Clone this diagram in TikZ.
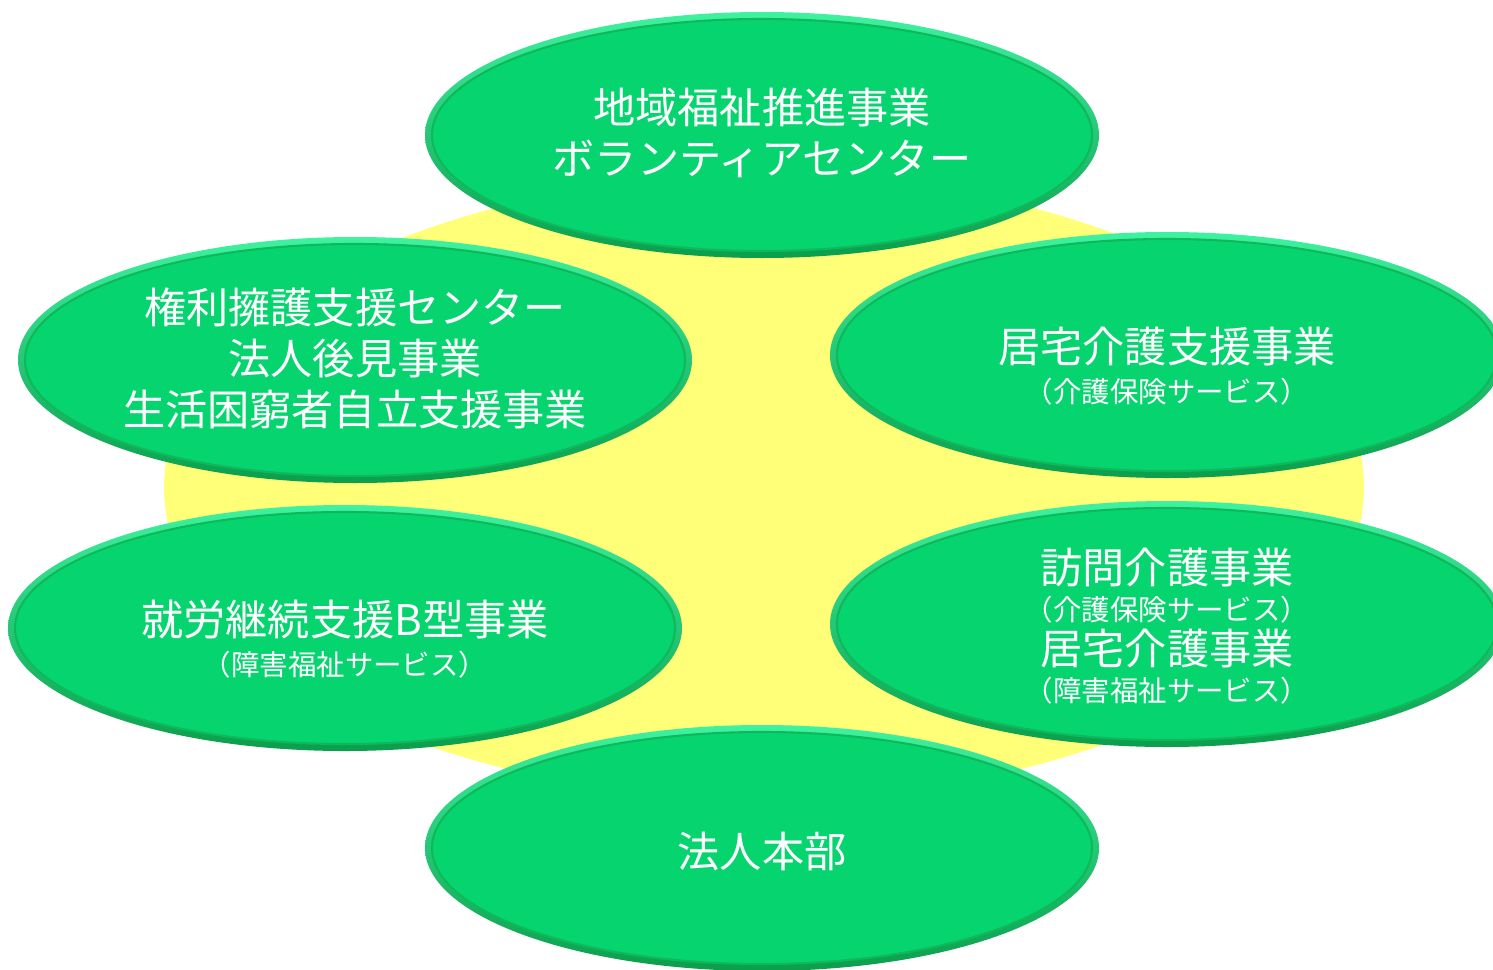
\documentclass[tikz,border=0pt]{standalone}
\usepackage{fontspec}
\setmainfont{Noto Sans CJK JP}
\definecolor{facegreen}{HTML}{06D56F}
\definecolor{rimlight}{HTML}{3DF2A0}
\definecolor{rimdark}{HTML}{0B9E4C}
\definecolor{edgegreen}{HTML}{0FB85A}
\definecolor{backyellow}{HTML}{FFFF78}
\newcommand{\subtxt}[1]{{\fontsize{8.1}{9.5}\selectfont #1}}
\tikzset{
  rim/.style={top color=rimlight, bottom color=rimdark},
  face/.style={fill=facegreen, draw=edgegreen, line width=0.6pt},
  ovaltext/.style={text=white, align=center, inner sep=0pt, font=\fontsize{12}{14.5}\selectfont}
}
\begin{document}
\begin{tikzpicture}
\clip (0,0) rectangle (14.93,9.69);
\fill[white] (0,0) rectangle (14.93,9.69);
\fill[backyellow] (7.64,4.82) ellipse (6.0 and 3.12);
% ovals
\foreach \x/\y in {7.62/8.34, 3.55/6.09, 11.67/6.14, 3.45/3.41, 11.67/3.45, 7.62/1.21}{
  \shade[rim] (\x,\y) ellipse (3.37 and 1.23);
  \filldraw[face] (\x,\y) ellipse (3.30 and 1.16);
}
\node[ovaltext] (G1N1) at (7.62,8.36) {地域福祉推進事業\\ボランティアセンター};
\node[ovaltext] (G1N2) at (3.55,6.11) {権利擁護支援センター\\法人後見事業\\生活困窮者自立支援事業};
\node[ovaltext] (G1N3) at (11.67,6.03) {居宅介護支援事業\\[-3pt]\subtxt{（介護保険サービス）}};
\node[ovaltext] (G1N4) at (3.45,3.30) {就労継続支援B型事業\\[-3pt]\subtxt{（障害福祉サービス）}};
\node[ovaltext] (G1N5) at (11.67,3.43) {訪問介護事業\\[-4pt]\subtxt{（介護保険サービス）}\\[-2pt]居宅介護事業\\[-4pt]\subtxt{（障害福祉サービス）}};
\node[ovaltext] (G1N6) at (7.62,1.17) {法人本部};
\end{tikzpicture}
\end{document}
